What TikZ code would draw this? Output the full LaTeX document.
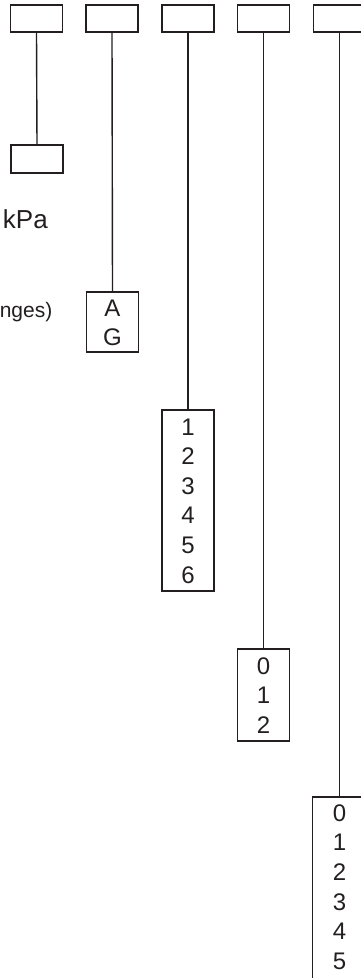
\documentclass[tikz,border=0pt]{standalone}
\usepackage{fontspec}
\setmainfont{Liberation Sans}
\definecolor{ink}{RGB}{35,31,32}
\begin{document}
\begin{tikzpicture}[x=1pt,y=-1pt,
  boxn/.style={draw=ink, line width=1.4pt, inner sep=0pt, minimum width=52pt},
  topbox/.style={boxn, minimum height=27pt},
  conn/.style={draw=ink, line width=1.4pt},
  vals/.style={inner sep=0pt, anchor=north, align=center, text=ink,
    font=\fontsize{24}{29.6}\selectfont},
  lbl/.style={inner sep=0pt, text=ink}]
\useasboundingbox (0,0) rectangle (361,978);
\clip (0,0) rectangle (361,978);
% top boxes
\node[topbox] (t1) at (36.5,18.5) {};
\node[topbox] (t2) at (112,18.5) {};
\node[topbox] (t3) at (188,18.5) {};
\node[topbox] (t4) at (263.5,18.5) {};
\node[topbox] (t5) at (339.5,18.5) {};
% lower boxes
\node[boxn, minimum height=28pt] (b1) at (37,159) {};
\node[boxn, minimum height=60pt] (b2) at (112.5,322) {};
\node[boxn, minimum height=181pt] (b3) at (188,500.5) {};
\node[boxn, minimum height=92pt] (b4) at (263.5,695) {};
\node[boxn, minimum height=200pt, minimum width=54pt] (b5) at (339.5,897) {};
% connectors
\draw[conn] (t1.south) -- (b1.north);
\draw[conn] (t2.south) -- (b2.north);
\draw[conn] (t3.south) -- (b3.north);
\draw[conn] (t4.south) -- (b4.north);
\draw[conn] (t5.south) -- (b5.north);
% values
\node[vals, yshift=-8pt] (v2) at (b2.north) {A\\G};
\node[vals, yshift=-9pt] (v3) at (b3.north) {1\\2\\3\\4\\5\\6};
\node[vals, yshift=-9pt] (v4) at (b4.north) {0\\1\\2};
\node[vals, yshift=-8pt] (v5) at (b5.north) {0\\1\\2\\3\\4\\5};
% side labels
\node[lbl, anchor=base east, font=\fontsize{26}{30}\selectfont] (kpa) at (48,228) {kPa};
\node[lbl, anchor=base east, font=\fontsize{21}{25}\selectfont] (rng) at (52.5,317) {nges)};
\end{tikzpicture}
\end{document}
